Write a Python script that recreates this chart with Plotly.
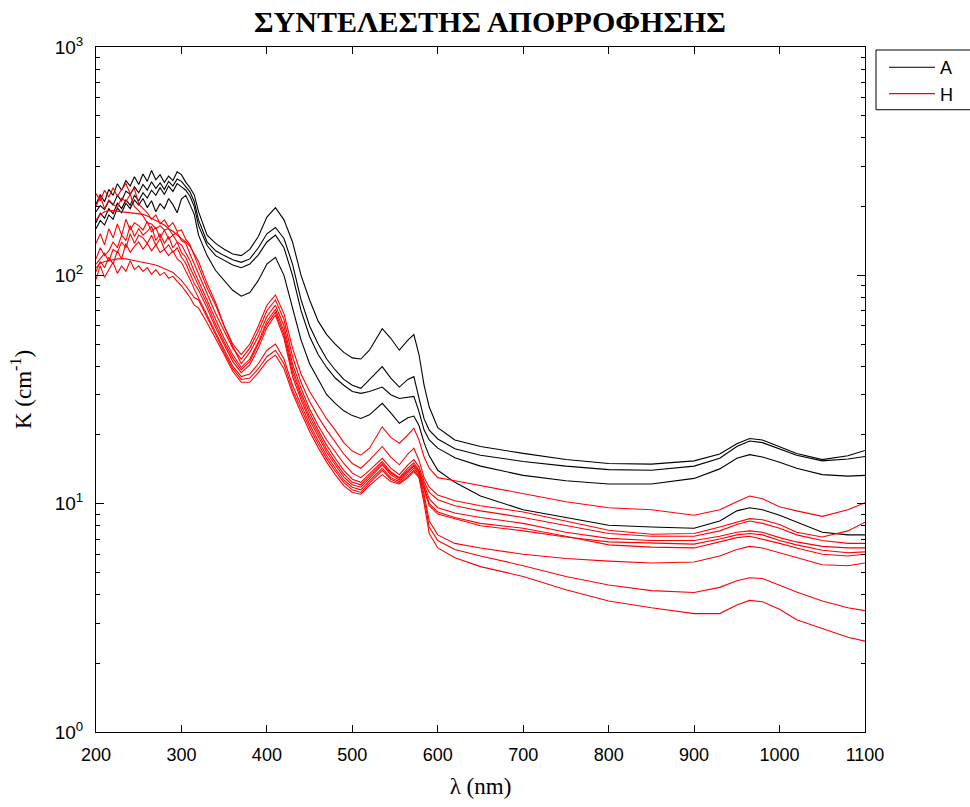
import plotly.graph_objects as go

# wavelength grid (nm)
WL = [200, 205, 210, 215, 220, 225, 230, 235, 240, 245, 250, 255, 260, 265, 270, 275, 280, 285, 290, 295, 300, 305, 310, 315,
      320, 330, 340, 350, 360, 370, 380, 390, 400, 410, 420, 430, 440, 450, 460, 470, 480, 490, 500, 510, 520, 535, 545, 555, 565, 572, 578, 584, 590, 600,
      620, 650, 700, 750, 800, 850, 900, 930, 950, 965, 980, 1000, 1020, 1050, 1080, 1100]

# group A (black)
A1 = [205, 226, 210, 238, 224, 252, 236, 260, 246, 270, 250, 278, 258, 288, 262, 276, 255, 272, 260, 284, 276, 256, 242, 225,
      190, 150, 138, 130, 124, 122, 130, 148, 180, 198, 175, 140, 100, 78, 63, 55, 50, 46, 43.5, 43, 47, 58.4, 53, 47, 52, 55, 45, 33, 26.5, 21.5,
      19, 17.8, 16.6, 15.6, 15.0, 14.9, 15.4, 16.5, 18.3, 19.3, 19.0, 17.8, 16.6, 15.6, 16.2, 17.1]
A2 = [190, 202, 194, 212, 203, 224, 212, 234, 226, 244, 230, 250, 236, 257, 240, 254, 238, 258, 246, 264, 258, 246, 232, 210,
      175, 140, 128, 122, 117, 114, 118, 132, 152, 162, 145, 112, 78, 60, 50, 43, 38.5, 35, 33, 32, 35, 39.8, 35.5, 32.4, 35, 36, 29, 23.5, 21, 19.2,
      17.4, 16.3, 15.3, 14.6, 14.1, 14.0, 14.6, 15.8, 17.8, 18.8, 18.5, 17.3, 16.3, 15.4, 15.7, 16.1]
A3 = [170, 187, 178, 196, 186, 207, 196, 214, 203, 224, 212, 230, 218, 236, 224, 242, 226, 246, 233, 252, 244, 236, 222, 200,
      165, 135, 122, 116, 111, 108, 112, 123, 140, 150, 132, 100, 70, 54, 45, 39.5, 35.5, 33, 31, 30.4, 31, 32.4, 30, 28.9, 29.3, 29.5, 25.3, 21, 19, 17.5,
      15.9, 14.6, 13.3, 12.6, 12.2, 12.2, 12.9, 14.2, 15.8, 16.4, 16.0, 15.2, 14.3, 13.4, 13.2, 13.3]
A4 = [160, 174, 166, 184, 176, 197, 188, 207, 196, 214, 203, 217, 198, 212, 190, 206, 196, 217, 204, 188, 216, 224, 204, 185,
      150, 122, 105, 95, 86, 81, 84, 95, 112, 120, 100, 72, 52, 41, 35, 30, 27.5, 25.5, 24.3, 23.6, 24.5, 27.5, 25, 22.5, 23.8, 24.2, 22, 18.5, 16.2, 14,
      12.4, 10.8, 9.4, 8.7, 8.05, 7.9, 7.8, 8.4, 9.3, 9.6, 9.4, 8.9, 8.3, 7.5, 7.3, 7.3]

# group H (red)
H1 = [228, 212, 236, 220, 242, 222, 238, 252, 228, 240, 205, 196, 188, 176, 184, 168, 175, 163, 170, 156, 158, 144, 136, 122,
      110, 88, 74, 60, 50, 45, 50, 60, 74, 82, 68, 48, 37, 31, 27, 23.5, 21, 18.5, 17, 16.3, 17.5, 21.7, 19.5, 18.4, 20, 21.4, 19, 16, 14.3, 13.0,
      12.6, 12.0, 11.0, 10.2, 9.6, 9.4, 8.9, 9.4, 10.2, 10.8, 10.5, 9.7, 9.3, 8.8, 9.4, 10.1]
H2 = [200, 222, 196, 214, 205, 198, 218, 210, 226, 200, 192, 182, 170, 168, 160, 165, 158, 160, 150, 154, 142, 138, 124, 112,
      102, 83, 68, 57, 48, 43, 48, 57, 70, 78, 64, 44, 34, 28, 24, 21, 18.5, 16.5, 15, 14.3, 15.5, 17.8, 16, 14.8, 16.5, 17.5, 15.5, 13, 11.8, 10.9,
      10.3, 9.8, 9.2, 8.4, 7.65, 7.35, 7.4, 7.9, 8.3, 8.6, 8.5, 8.1, 7.5, 7.15, 7.6, 8.3]
H3 = [175, 185, 190, 192, 192, 191, 190, 190, 189, 188, 187, 185, 182, 178, 175, 170, 166, 160, 156, 150, 145, 140, 134, 125,
      115, 92, 76, 60, 49, 41, 46, 54, 66, 74, 60, 41, 32, 26, 22, 19, 16.8, 15, 13.6, 13, 14, 15.8, 14.3, 13.4, 14.8, 15.6, 14.5, 12.5, 11.2, 10.4,
      9.8, 9.3, 8.7, 8.0, 7.4, 7.2, 7.2, 7.6, 8.1, 8.4, 8.2, 7.8, 7.3, 6.9, 6.7, 6.7]
H4 = [138, 152, 136, 160, 146, 168, 150, 176, 158, 170, 165, 158, 172, 155, 162, 146, 158, 144, 150, 140, 136, 126, 116, 104,
      95, 78, 64, 53, 45, 39.5, 43, 51, 63, 71, 57, 39, 30.5, 25, 21, 18, 15.8, 14, 12.8, 12.4, 13.5, 15.3, 13.8, 13.0, 14.3, 15.1, 14, 12, 10.5, 9.6,
      9.1, 8.7, 8.2, 7.5, 7.05, 6.9, 6.9, 7.2, 7.5, 7.6, 7.5, 7.1, 6.8, 6.5, 6.4, 6.4]
H5 = [118, 132, 122, 128, 140, 132, 150, 142, 165, 148, 160, 150, 156, 164, 142, 152, 138, 148, 132, 140, 126, 120, 108, 98,
      90, 75, 61, 51, 43.5, 38.5, 42, 50, 61, 69, 55, 37.5, 29.5, 24, 20.3, 17.3, 15.2, 13.5, 12.4, 12.1, 13.2, 15.0, 13.6, 12.9, 14.0, 14.8, 13.8, 11.8, 10, 9.2,
      8.7, 8.2, 7.8, 7.2, 6.6, 6.45, 6.4, 6.8, 7.1, 7.2, 7.0, 6.7, 6.4, 6.0, 5.9, 6.0]
H6 = [112, 118, 125, 115, 130, 126, 140, 132, 152, 138, 150, 146, 138, 150, 135, 145, 130, 136, 126, 132, 120, 113, 102, 92,
      86, 72, 59, 49.5, 42, 37.5, 40.5, 48, 59, 67, 53, 36, 28.5, 23.2, 19.6, 16.8, 14.8, 13.1, 12.1, 11.8, 12.9, 14.8, 13.4, 12.7, 13.8, 14.6, 13.6, 11.5, 9.8, 9.0,
      8.6, 8.0, 7.6, 7.15, 6.8, 6.7, 6.65, 7.0, 7.3, 7.4, 7.3, 6.9, 6.6, 6.25, 6.1, 6.15]
H7 = [104, 115, 108, 120, 112, 128, 118, 138, 126, 134, 140, 130, 138, 128, 136, 126, 130, 122, 128, 118, 114, 105, 96, 87,
      80, 67, 56, 47, 40, 36, 37, 41, 47, 50, 43, 33, 27, 22.3, 18.9, 16.2, 14.3, 12.7, 11.8, 11.5, 12.6, 14.3, 13, 12.5, 13.5, 14.3, 13.4, 11, 8.4, 7.3,
      6.7, 6.4, 6.0, 5.75, 5.6, 5.5, 5.55, 5.9, 6.3, 6.5, 6.4, 6.1, 5.8, 5.4, 5.35, 5.5]
H8 = [108, 113, 115, 116, 117, 118, 118, 118, 117, 116, 115, 114, 113, 112, 111, 109, 107, 105, 103, 99, 95, 90, 85, 80,
      78, 66, 55, 46, 39, 35, 35.5, 39, 44, 47, 41, 31.5, 26, 21.5, 18.3, 15.7, 13.9, 12.4, 11.5, 11.2, 12.3, 14.0, 12.8, 12.3, 13.2, 14.0, 13.2, 10.5, 7.9, 6.9,
      6.3, 5.9, 5.35, 4.8, 4.4, 4.16, 4.08, 4.3, 4.6, 4.74, 4.7, 4.4, 4.1, 3.75, 3.5, 3.4]
H9 = [96, 110, 98, 106, 114, 102, 110, 104, 116, 106, 110, 104, 108, 101, 106, 100, 103, 97, 99, 94, 90, 85, 80, 74,
      72, 62, 53, 45, 38, 34, 34, 37.5, 42, 44.8, 39, 30.5, 25, 20.7, 17.6, 15.2, 13.4, 12.0, 11.2, 11.0, 12.0, 13.4, 12.5, 12.2, 13.0, 13.8, 13.0, 10, 7.4, 6.4,
      5.8, 5.3, 4.8, 4.2, 3.75, 3.5, 3.3, 3.3, 3.6, 3.77, 3.72, 3.45, 3.1, 2.85, 2.6, 2.5]

A_SERIES = [A1, A2, A3, A4]
H_SERIES = [H1, H2, H3, H4, H5, H6, H7, H8, H9]

Y_TICKS = [1, 10, 100, 1000]
Y_TICKTEXT = ["10<sup>0</sup>", "10<sup>1</sup>", "10<sup>2</sup>", "10<sup>3</sup>"]
X_TICKS = [200, 300, 400, 500, 600, 700, 800, 900, 1000, 1100]
Y_MINOR = [m * 10 ** k for k in range(3) for m in range(2, 10)]

W, H = 970, 807
L, R, T, B = 96, 105, 47, 72
PW, PH = W - L - R, H - T - B

fig = go.Figure()
for i, ys in enumerate(A_SERIES):
    fig.add_trace(go.Scatter(x=WL, y=ys, mode="lines", name="A", legendgroup="A",
                             showlegend=(i == 0), line=dict(color="#000000", width=1.1)))
for i, ys in enumerate(H_SERIES):
    fig.add_trace(go.Scatter(x=WL, y=ys, mode="lines", name="H", legendgroup="H",
                             showlegend=(i == 0), line=dict(color="#ff0000", width=1.1)))


def px_x(p):
    return (p - L) / PW


def px_y(p):
    return (H - B - p) / PH


fig.add_shape(type="rect", xref="paper", yref="paper",
              x0=px_x(876), x1=px_x(990), y0=px_y(110), y1=px_y(50),
              line=dict(color="black", width=1), fillcolor="white", layer="below")

fig.update_layout(
    width=W, height=H,
    margin=dict(l=L, r=R, t=T, b=B, pad=0),
    paper_bgcolor="white", plot_bgcolor="white",
    title=dict(text="<b>ΣΥΝΤΕΛΕΣΤΗΣ ΑΠΟΡΡΟΦΗΣΗΣ</b>", x=490 / W, xref="container",
               xanchor="center", y=1 - 21 / H, yref="container", yanchor="middle",
               font=dict(family="Liberation Serif", size=30, color="black")),
    showlegend=True,
    legend=dict(x=px_x(884), y=px_y(49), xanchor="left", yanchor="top",
                bgcolor="rgba(0,0,0,0)", borderwidth=0,
                font=dict(family="Liberation Sans", size=18, color="black"),
                tracegroupgap=0, itemwidth=46),
    xaxis=dict(range=[200, 1100], tickmode="array", tickvals=X_TICKS,
               ticks="inside", ticklen=7, tickwidth=1, tickcolor="black",
               showline=True, linecolor="black", linewidth=1, mirror="allticks",
               showgrid=False, zeroline=False, ticklabelstandoff=6,
               tickfont=dict(family="Liberation Sans", size=18, color="black"),
               title=dict(text="λ (nm)", standoff=14,
                          font=dict(family="Liberation Serif", size=23, color="black"))),
    yaxis=dict(type="log", range=[0, 3], tickmode="array", tickvals=Y_TICKS, ticktext=Y_TICKTEXT,
               ticks="inside", ticklen=8, tickwidth=1, tickcolor="black",
               minor=dict(tickmode="array", tickvals=Y_MINOR, ticks="inside", ticklen=4,
                          tickcolor="black", showgrid=False),
               showline=True, linecolor="black", linewidth=1, mirror="allticks",
               showgrid=False, zeroline=False, ticklabelstandoff=8,
               tickfont=dict(family="Liberation Sans", size=19, color="black"),
               title=dict(text="K (cm<sup>-1</sup>)", standoff=16,
                          font=dict(family="Liberation Serif", size=23, color="black"))),
)

fig.write_html("out.html")
